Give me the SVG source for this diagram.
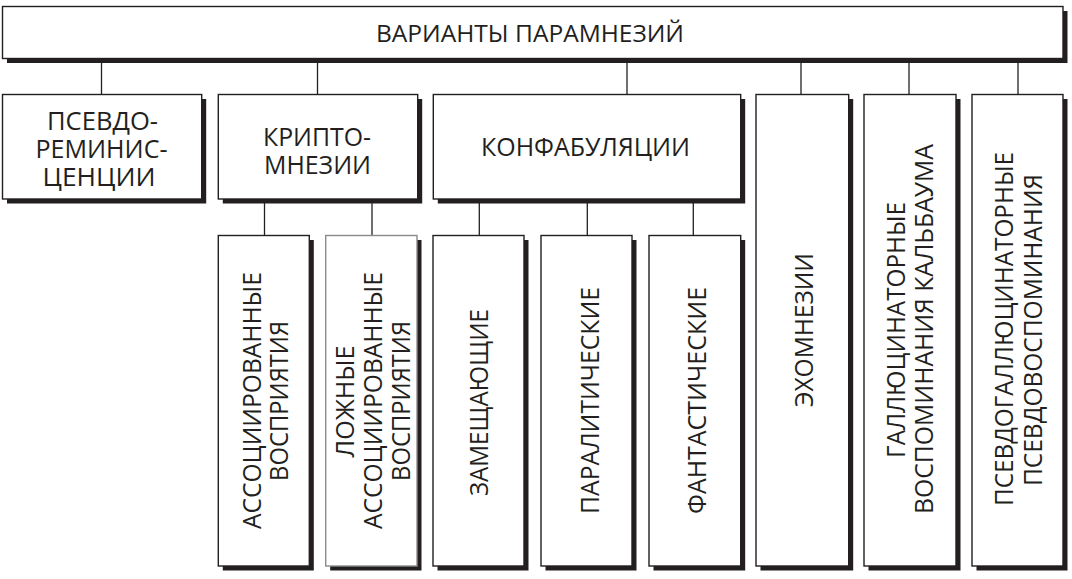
<svg xmlns="http://www.w3.org/2000/svg" width="1072" height="579" viewBox="0 0 1072 579">
<style>
.sh{fill:#231f20;}
.bx{fill:#fff;stroke:#231f20;stroke-width:1.4;}
.bxg{fill:#fff;stroke:#8a8a8a;stroke-width:1.4;}
.cn line{stroke:#231f20;stroke-width:1.3;}
text{font-family:"Open Sans","Noto Sans","DejaVu Sans",sans-serif;font-size:26px;fill:#231f20;text-anchor:middle;}
.t{font-size:24px;}
.m{font-size:25.5px;}
</style>
<rect width="1072" height="579" fill="#fff"/>
<g id="connectors" class="cn">
<line x1="101.5" y1="58.5" x2="101.5" y2="94.5"/>
<line x1="317.5" y1="58.5" x2="317.5" y2="94.5"/>
<line x1="627" y1="58.5" x2="627" y2="94.5"/>
<line x1="801" y1="58.5" x2="801" y2="94.5"/>
<line x1="909" y1="58.5" x2="909" y2="94.5"/>
<line x1="1018" y1="58.5" x2="1018" y2="94.5"/>
<line x1="264.5" y1="199" x2="264.5" y2="235.5"/>
<line x1="372" y1="199" x2="372" y2="235.5"/>
<line x1="479.3" y1="199" x2="479.3" y2="235.5"/>
<line x1="587.3" y1="199" x2="587.3" y2="235.5"/>
<line x1="693.3" y1="199" x2="693.3" y2="235.5"/>
</g>
<g id="root">
<rect class="sh" x="7" y="11" width="1060.5" height="52"/>
<rect class="bx" x="2.5" y="6.5" width="1060.5" height="52"/>
<text class="t" x="530" y="41.7" textLength="308" lengthAdjust="spacingAndGlyphs">ВАРИАНТЫ ПАРАМНЕЗИЙ</text>
</g>
<g id="pseudoreminiscence">
<rect class="sh" x="7" y="99" width="199.2" height="104.5"/>
<rect class="bx" x="2.5" y="94.5" width="199.2" height="104.5"/>
<text class="m"><tspan x="102.5" y="129.5" textLength="111" lengthAdjust="spacingAndGlyphs">ПСЕВДО-</tspan><tspan x="101.5" y="157.5" textLength="132" lengthAdjust="spacingAndGlyphs">РЕМИНИС-</tspan><tspan x="99" y="185.5" textLength="113" lengthAdjust="spacingAndGlyphs">ЦЕНЦИИ</tspan></text>
</g>
<g id="cryptomnesia">
<rect class="sh" x="222.8" y="99" width="199.4" height="104.5"/>
<rect class="bx" x="218.3" y="94.5" width="199.4" height="104.5"/>
<text class="m"><tspan x="317" y="145.5" textLength="108" lengthAdjust="spacingAndGlyphs">КРИПТО-</tspan><tspan x="317.5" y="173.5" textLength="107" lengthAdjust="spacingAndGlyphs">МНЕЗИИ</tspan></text>
</g>
<g id="confabulation">
<rect class="sh" x="437.8" y="99" width="307.4" height="104.5"/>
<rect class="bx" x="433.3" y="94.5" width="307.4" height="104.5"/>
<text x="585.5" y="156" textLength="209" lengthAdjust="spacingAndGlyphs">КОНФАБУЛЯЦИИ</text>
</g>
<g id="echomnesia">
<rect class="sh" x="760.5" y="99" width="92.7" height="471.5"/>
<rect class="bx" x="756" y="94.5" width="92.7" height="471.5"/>
<text transform="translate(813,330) rotate(-90)" textLength="154" lengthAdjust="spacingAndGlyphs">ЭХОМНЕЗИИ</text>
</g>
<g id="kahlbaum">
<rect class="sh" x="868.5" y="99" width="92" height="471.5"/>
<rect class="bx" x="864" y="94.5" width="92" height="471.5"/>
<text transform="translate(905,330) rotate(-90)" textLength="256" lengthAdjust="spacingAndGlyphs">ГАЛЛЮЦИНАТОРНЫЕ</text>
<text transform="translate(933,329) rotate(-90)" textLength="370" lengthAdjust="spacingAndGlyphs">ВОСПОМИНАНИЯ КАЛЬБАУМА</text>
</g>
<g id="pseudohallucinatory">
<rect class="sh" x="976.5" y="99" width="91" height="471.5"/>
<rect class="bx" x="972" y="94.5" width="91" height="471.5"/>
<text transform="translate(1013,329) rotate(-90)" textLength="354" lengthAdjust="spacingAndGlyphs">ПСЕВДОГАЛЛЮЦИНАТОРНЫЕ</text>
<text transform="translate(1041.5,330) rotate(-90)" textLength="312" lengthAdjust="spacingAndGlyphs">ПСЕВДОВОСПОМИНАНИЯ</text>
</g>
<g id="associated">
<rect class="sh" x="222.8" y="240" width="91" height="330.5"/>
<rect class="bx" x="218.3" y="235.5" width="91" height="330.5"/>
<text transform="translate(260.7,400.5) rotate(-90)" textLength="257" lengthAdjust="spacingAndGlyphs">АССОЦИИРОВАННЫЕ</text>
<text transform="translate(288,401) rotate(-90)" textLength="160" lengthAdjust="spacingAndGlyphs">ВОСПРИЯТИЯ</text>
</g>
<g id="false-associated">
<rect class="sh" x="330.2" y="240" width="91.3" height="330.5"/>
<rect class="bxg" x="325.7" y="235.5" width="91.3" height="330.5"/>
<text transform="translate(354,401.5) rotate(-90)" textLength="112" lengthAdjust="spacingAndGlyphs">ЛОЖНЫЕ</text>
<text transform="translate(381.7,400.5) rotate(-90)" textLength="257" lengthAdjust="spacingAndGlyphs">АССОЦИИРОВАННЫЕ</text>
<text transform="translate(410,401) rotate(-90)" textLength="160" lengthAdjust="spacingAndGlyphs">ВОСПРИЯТИЯ</text>
</g>
<g id="substitutive">
<rect class="sh" x="437.5" y="240" width="91" height="330.5"/>
<rect class="bx" x="433" y="235.5" width="91" height="330.5"/>
<text transform="translate(487.5,402.5) rotate(-90)" textLength="187" lengthAdjust="spacingAndGlyphs">ЗАМЕЩАЮЩИЕ</text>
</g>
<g id="paralytic">
<rect class="sh" x="545.5" y="240" width="91" height="330.5"/>
<rect class="bx" x="541" y="235.5" width="91" height="330.5"/>
<text transform="translate(598.5,400.5) rotate(-90)" textLength="227" lengthAdjust="spacingAndGlyphs">ПАРАЛИТИЧЕСКИЕ</text>
</g>
<g id="fantastic">
<rect class="sh" x="653.5" y="240" width="91.7" height="330.5"/>
<rect class="bx" x="649" y="235.5" width="91.7" height="330.5"/>
<text transform="translate(705.5,400.5) rotate(-90)" textLength="227" lengthAdjust="spacingAndGlyphs">ФАНТАСТИЧЕСКИЕ</text>
</g>
</svg>
